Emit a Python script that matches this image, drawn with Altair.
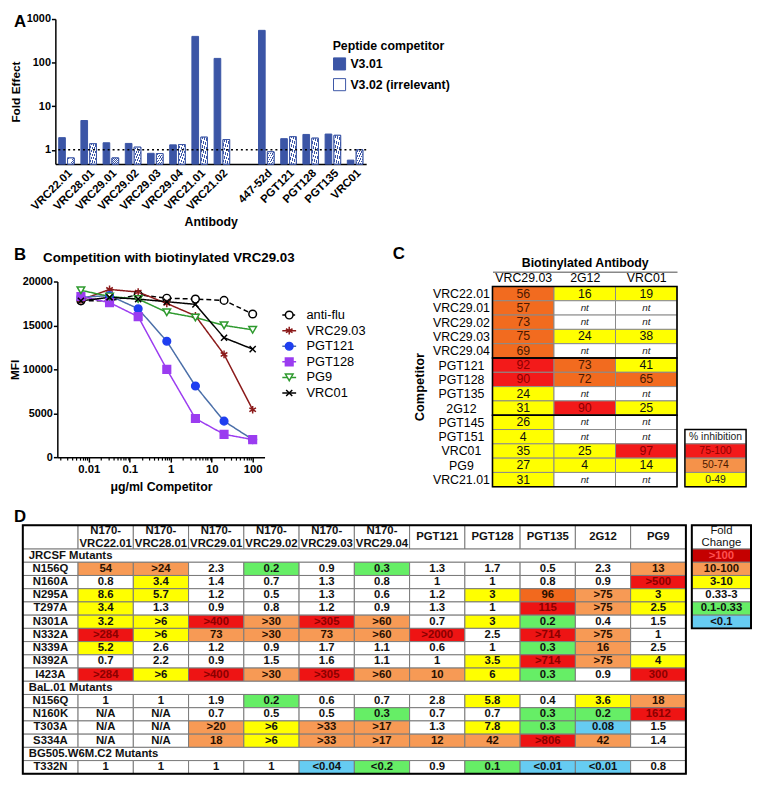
import json
import altair as alt
import pandas as pd

FONT = "Liberation Sans"
BLUE = "#3b55a6"

# ---------------- Panel A data ----------------
a_antibodies = ["VRC22.01", "VRC28.01", "VRC29.01", "VRC29.02", "VRC29.03", "VRC29.04",
                "VRC21.01", "VRC21.02", " ", "447-52d", "PGT121", "PGT128", "PGT135", "VRC01"]
a_v301 = [1.9, 4.7, 1.45, 1.4, 0.83, 1.3, 400, 125, None, 550, 1.8, 2.25, 2.3, 0.58]
a_v302 = [0.65, 1.38, 0.65, 1.15, 0.82, 1.32, 1.95, 1.72, None, 0.9, 2.0, 1.85, 2.15, 1.0]
a_series = ["V3.01", "V3.02 (irrelevant)"]
a_ticks = [1, 10, 100, 1000]

# ---------------- Panel B data ----------------
b_conc = [0.0064, 0.032, 0.16, 0.8, 4, 20, 100]
b_series = ["anti-flu", "VRC29.03", "PGT121", "PGT128", "PG9", "VRC01"]
b_antiflu = [17800, 17800, 18500, 18100, 18000, 17850, 16300]
b_vrc2903 = [17900, 19100, 18800, 17500, 16100, 11700, 5400]
b_pgt121 = [18200, 18400, 16900, 13200, 8100, 4100, 2000]
b_pgt128 = [18300, 17600, 16000, 10000, 4400, 2600, 2000]
b_pg9 = [19000, 18300, 18000, 16500, 15900, 15000, 14500]
b_vrc01 = [17800, 18200, 18000, 17700, 17400, 13600, 12300]
b_xticks = [0.01, 0.1, 1, 10, 100]
b_yticks = [0, 5000, 10000, 15000, 20000]

# ---------------- Panel C data ----------------
c_competitors = ["VRC22.01", "VRC29.01", "VRC29.02", "VRC29.03", "VRC29.04", "PGT121", "PGT128",
                 "PGT135", "2G12", "PGT145", "PGT151", "VRC01", "PG9", "VRC21.01"]
c_biotin = ["VRC29.03", "2G12", "VRC01"]
c_vrc2903 = [56, 57, 73, 75, 69, 92, 90, 24, 31, 26, 4, 35, 27, 31]
c_2g12 = [16, None, None, 24, None, 73, 72, None, 90, None, None, 25, 4, None]
c_vrc01 = [19, None, None, 38, None, 41, 65, None, 25, None, None, 97, 14, None]
c_groups = [("VRC22.01", "VRC29.04"), ("PGT121", "2G12"), ("PGT145", "VRC21.01")]
c_legend = ["% inhibition", "75-100", "50-74", "0-49"]

# ---------------- Panel D data ----------------
d_columns = ["N170-\nVRC22.01", "N170-\nVRC28.01", "N170-\nVRC29.01", "N170-\nVRC29.02",
             "N170-\nVRC29.03", "N170-\nVRC29.04", "PGT121", "PGT128", "PGT135", "2G12", "PG9"]
d_sections = ["JRCSF Mutants", "BaL.01 Mutants", "BG505.W6M.C2 Mutants"]
d_mutants = [
    ["N156Q", "N160A", "N295A", "T297A", "N301A", "N332A", "N339A", "N392A", "I423A"],
    ["N156Q", "N160K", "T303A", "S334A"],
    ["T332N"],
]
d_values = [
    [
        ["54", ">24", "2.3", "0.2", "0.9", "0.3", "1.3", "1.7", "0.5", "2.3", "13"],
        ["0.8", "3.4", "1.4", "0.7", "1.3", "0.8", "1", "1", "0.8", "0.9", ">500"],
        ["8.6", "5.7", "1.2", "0.5", "1.3", "0.6", "1.2", "3", "96", ">75", "3"],
        ["3.4", "1.3", "0.9", "0.8", "1.2", "0.9", "1.3", "1", "115", ">75", "2.5"],
        ["3.2", ">6", ">400", ">30", ">305", ">60", "0.7", "3", "0.2", "0.4", "1.5"],
        [">284", ">6", "73", ">30", "73", ">60", ">2000", "2.5", ">714", ">75", "1"],
        ["5.2", "2.6", "1.2", "0.9", "1.7", "1.1", "0.6", "1", "0.3", "16", "2.5"],
        ["0.7", "2.2", "0.9", "1.5", "1.6", "1.1", "1", "3.5", ">714", ">75", "4"],
        [">284", ">6", ">400", ">30", ">305", ">60", "10", "6", "0.3", "0.9", "300"],
    ],
    [
        ["1", "1", "1.9", "0.2", "0.6", "0.7", "2.8", "5.8", "0.4", "3.6", "18"],
        ["N/A", "N/A", "0.7", "0.5", "0.5", "0.3", "0.7", "0.7", "0.3", "0.2", "1612"],
        ["N/A", "N/A", ">20", ">6", ">33", ">17", "1.3", "7.8", "0.3", "0.08", "1.5"],
        ["N/A", "N/A", "18", ">6", ">33", ">17", "12", "42", ">806", "42", "1.4"],
    ],
    [
        ["1", "1", "1", "1", "<0.04", "<0.2", "0.9", "0.1", "<0.01", "<0.01", "0.8"],
    ],
]
# colour class of each cell: R >100, O 10-100, D darker orange, Y 3-10, W 0.33-3, G 0.1-0.33, B <0.1
d_classes = [
    ["O O W G W G W W W W O",
     "W Y W W W W W W W W R",
     "Y Y W W W W W Y D O Y",
     "Y W W W W W W W R O Y",
     "Y Y R O R O W Y G W W",
     "R Y O O O O R W R O W",
     "Y W W W W W W W G O W",
     "W W W W W W W Y R O Y",
     "R Y R O R O O Y G W R"],
    ["W W W G W W W Y W Y O",
     "W W W W W G W W G G R",
     "W W O Y O O W Y G B W",
     "W W O Y O O O O R O W"],
    ["W W W W B G W G B B W"],
]
d_legend = [">100", "10-100", "3-10", "0.33-3", "0.1-0.33", "<0.1"]
d_legend_classes = ["K", "O", "Y", "W", "G", "B"]

# ---------------- styles ----------------
ax_common = dict(labelFont=FONT, titleFont=FONT, labelFontWeight="bold", titleFontWeight="bold",
                 labelColor="black", titleColor="black", domainColor="black", tickColor="black",
                 domainWidth=1.5, tickWidth=1.5, grid=False)
RES = dict(color="independent", fill="independent", stroke="independent",
           shape="independent", strokeDash="independent")


def spacer(ch, w, h, dy):
    return alt.Chart(pd.DataFrame({"t": [ch]})).mark_text(
        align="left", baseline="top", font=FONT, fontSize=17, fontWeight="bold", color="black"
    ).encode(text="t:N", x=alt.value(0), y=alt.value(dy)).properties(width=w, height=h)


# ================= Panel A =================
a_rows = []
for ab, v1, v2 in zip(a_antibodies, a_v301, a_v302):
    if v1 is not None:
        a_rows.append({"antibody": ab, "series": a_series[0], "value": v1})
    if v2 is not None:
        a_rows.append({"antibody": ab, "series": a_series[1], "value": v2})
df_a = pd.DataFrame(a_rows)

A_W, A_H, A_YMIN = 315, 147, 0.47
a_x = alt.X("antibody:N",
            scale=alt.Scale(domain=a_antibodies, paddingInner=0.3, paddingOuter=0.15),
            axis=alt.Axis(title="Antibody", labelAngle=-45, ticks=False, labelFontSize=11.5,
                          titleFontSize=12.5, labelPadding=3, titlePadding=4, **ax_common))
a_y = alt.Y("value:Q", scale=alt.Scale(type="log", domain=[A_YMIN, 1000], clamp=True, nice=False),
            axis=alt.Axis(title="Fold Effect", values=a_ticks, format="d", tickSize=4,
                          labelPadding=1, labelFontSize=11, titleFontSize=12, titlePadding=4,
                          **ax_common))
a_xo = alt.XOffset("series:N", scale=alt.Scale(domain=a_series, paddingInner=0.25))

stops = []
n_str = 6
for k in range(n_str):
    o0, o1, o2 = k / n_str, (k + 0.68) / n_str, (k + 1) / n_str
    stops += [alt.GradientStop(color="white", offset=o0), alt.GradientStop(color="white", offset=o1),
              alt.GradientStop(color=BLUE, offset=o1), alt.GradientStop(color=BLUE, offset=o2)]
HATCH = alt.LinearGradient(gradient="linear", stops=stops, x1=0, y1=0, x2=1, y2=1)

a_bars = alt.Chart(df_a).mark_bar(stroke=BLUE, strokeWidth=1).encode(
    x=a_x, xOffset=a_xo, y=a_y, y2=alt.datum(A_YMIN),
    color=alt.Color("series:N", scale=alt.Scale(domain=a_series, range=[BLUE, "white"]),
                    legend=alt.Legend(title="Peptide competitor", orient="none", legendX=A_W + 8,
                                      legendY=21, titleFont=FONT, titleFontSize=12.5,
                                      titleFontWeight="bold", labelFont=FONT, labelFontSize=12.5,
                                      labelFontWeight="bold", labelColor="black", titleColor="black",
                                      symbolType="square", symbolSize=150, symbolStrokeColor=BLUE,
                                      symbolStrokeWidth=1, rowPadding=3, titlePadding=5)),
)
a_hatch = alt.Chart(df_a).transform_filter(alt.datum.series == a_series[1]).mark_bar(
    fill=HATCH, stroke=BLUE, strokeWidth=1
).encode(x=alt.X("antibody:N"), xOffset=alt.XOffset("series:N"), y=alt.Y("value:Q"),
         y2=alt.datum(A_YMIN))
a_ref = alt.Chart(pd.DataFrame({"ref": [1]})).mark_rule(
    color="black", strokeDash=[2, 3], strokeWidth=1.6).encode(y=alt.Y("ref:Q"))
chartA = alt.layer(a_bars, a_hatch, a_ref).properties(width=A_W, height=A_H)
rowA = alt.hconcat(spacer("A", 42, A_H, -5), chartA, spacing=0, bounds="flush")

# ================= Panel B =================
b_rows = []
for s, vals in zip(b_series, [b_antiflu, b_vrc2903, b_pgt121, b_pgt128, b_pg9, b_vrc01]):
    for c, v in zip(b_conc, vals):
        b_rows.append({"series": s, "conc": c, "mfi": v})
df_b = pd.DataFrame(b_rows)

B_W, B_H, B_GAP = 210, 178, 231
B_XDOM = [0.0017, 195]
ASTERISK = "M0,-1L0,1M-0.87,-0.5L0.87,0.5M-0.87,0.5L0.87,-0.5"
XMARK = "M-0.8,-0.8L0.8,0.8M-0.8,0.8L0.8,-0.8"
b_line_colors = ["black", "#8b1a1a", "#4a6ea8", "#9b3cf0", "#2e9a2e", "black"]
b_stroke_colors = ["black", "#8b1a1a", "#1f3ff0", "#9b3cf0", "#2e9a2e", "black"]
b_fill_colors = ["white", "transparent", "#1f3ff0", "#9b3cf0", "white", "transparent"]
b_shapes = ["circle", ASTERISK, "circle", "square", "triangle-down", XMARK]
b_dashes = [[5, 3], [1, 0], [1, 0], [1, 0], [1, 0], [1, 0]]


def b_enc_scales():
    return dict(
        stroke=alt.Stroke("series:N", scale=alt.Scale(domain=b_series, range=b_stroke_colors),
                          legend=None),
        fill=alt.Fill("series:N", scale=alt.Scale(domain=b_series, range=b_fill_colors),
                      legend=None),
        shape=alt.Shape("series:N", scale=alt.Scale(domain=b_series, range=b_shapes),
                        legend=None),
    )


b_x = alt.X("conc:Q", scale=alt.Scale(type="log", domain=B_XDOM, nice=False),
            axis=alt.Axis(title="μg/ml Competitor", values=b_xticks, format="~g", tickSize=5,
                          labelFontSize=11.5, titleFontSize=12.5, titlePadding=5, **ax_common))
b_y = alt.Y("mfi:Q", scale=alt.Scale(domain=[0, 20000], nice=False),
            axis=alt.Axis(title="MFI", values=b_yticks, format="d", tickSize=4, labelPadding=1,
                          labelFontSize=11, titleFontSize=12, titlePadding=1, **ax_common))

b_lines = alt.Chart(df_b).mark_line(strokeWidth=1.5).encode(
    x=b_x, y=b_y,
    color=alt.Color("series:N", scale=alt.Scale(domain=b_series, range=b_line_colors), legend=None),
    strokeDash=alt.StrokeDash("series:N", scale=alt.Scale(domain=b_series, range=b_dashes),
                              legend=None),
)
b_points = alt.Chart(df_b).mark_point(size=60, strokeWidth=1.5, opacity=1, fillOpacity=1).encode(
    x=alt.X("conc:Q", axis=None), y=alt.Y("mfi:Q"), **b_enc_scales())
b_minor = [k * 10 ** e for e in range(-3, 3) for k in range(2, 10)
           if B_XDOM[0] <= k * 10 ** e <= B_XDOM[1]]
b_minor_layer = alt.Chart(pd.DataFrame({"m": b_minor})).mark_point(opacity=0).encode(
    x=alt.X("m:Q", axis=alt.Axis(orient="bottom", values=b_minor, labels=False, domain=False,
                                 tickSize=3, tickWidth=1.2, tickColor="black", grid=False,
                                 title=None)))
chartB = alt.layer(b_lines, b_points, b_minor_layer).resolve_axis(x="independent").properties(
    width=B_W, height=B_H,
    title=alt.TitleParams("Competition with biotinylated VRC29.03", font=FONT, fontSize=13.5,
                          fontWeight="bold", anchor="middle", frame="group", dx=8, offset=11,
                          color="black"))

# legend of panel B: a line segment with the marker, then the name
df_bl = pd.DataFrame({"series": b_series})
df_bl["x0"], df_bl["x1"], df_bl["xm"], df_bl["xt"] = 0.0, 1.0, 0.5, 1.75
bl_xs = alt.Scale(domain=[0, 1], range=[18, 32], nice=False, zero=False)
bl_ys = alt.Scale(type="point", domain=b_series, range=[34, 113], padding=0)
bl_rule = alt.Chart(df_bl).mark_rule(strokeWidth=1.5).encode(
    x=alt.X("x0:Q", scale=bl_xs, axis=None), x2="x1:Q",
    y=alt.Y("series:N", scale=bl_ys, axis=None),
    color=alt.Color("series:N", scale=alt.Scale(domain=b_series, range=b_line_colors), legend=None),
    strokeDash=alt.StrokeDash("series:N", scale=alt.Scale(domain=b_series, range=[[3, 2]] +
                                                            b_dashes[1:]), legend=None))
bl_pts = alt.Chart(df_bl).mark_point(size=60, strokeWidth=1.5, opacity=1, fillOpacity=1).encode(
    x=alt.X("xm:Q", scale=bl_xs, axis=None), y=alt.Y("series:N", scale=bl_ys, axis=None),
    **b_enc_scales())
bl_txt = alt.Chart(df_bl).mark_text(align="left", baseline="middle", font=FONT, fontSize=13,
                                    color="black").encode(
    x=alt.X("xt:Q", scale=bl_xs, axis=None), y=alt.Y("series:N", scale=bl_ys, axis=None),
    text="series:N")
chartBL = alt.layer(bl_rule, bl_pts, bl_txt).properties(width=B_GAP, height=B_H)

# ================= Panel C =================
C_PW, C_RH, C_TOP = 187, 14.5, 5
C_H = C_TOP + C_RH * len(c_competitors)
c_fill_map = {"R": "#f31a1a", "O": "#f26b1f", "Y": "#ffff00", "N": "#ffffff"}
c_text_map = {"R": "#8b0000", "O": "#4a1800", "Y": "#111111", "N": "#222222"}
c_rows = []
for r, comp in enumerate(c_competitors):
    for c, vals in enumerate([c_vrc2903, c_2g12, c_vrc01]):
        v = vals[r]
        if v is None:
            cat, txt = "N", "nt"
        else:
            cat = "R" if v > 75 else ("O" if v >= 50 else "Y")
            txt = str(v)
        c_rows.append({"c0": c, "c1": c + 1, "r0": r, "r1": r + 1, "cx": c + 0.5, "ry": r + 0.5,
                       "txt": txt, "cat": cat, "fill": c_fill_map[cat], "tcol": c_text_map[cat]})
df_c = pd.DataFrame(c_rows)
c_grp = pd.DataFrame([{"c0": 0, "c1": 3, "r0": c_competitors.index(a),
                       "r1": c_competitors.index(b) + 1} for a, b in c_groups])

c_ys = alt.Scale(domain=[0, len(c_competitors)], range=[C_TOP, C_H], nice=False, zero=False)
c_xs = alt.Scale(domain=[0, 3], range=[0, C_PW], nice=False, zero=False)
c_cells = alt.Chart(df_c).mark_rect(stroke="#8a8a8a", strokeWidth=1).encode(
    x=alt.X("c0:Q", scale=c_xs,
            axis=alt.Axis(orient="top", values=[0.5, 1.5, 2.5],
                          labelExpr=json.dumps(c_biotin) + "[floor(datum.value)]",
                          ticks=False, domain=False, grid=False, labelFont=FONT, labelFontSize=12.5,
                          labelColor="black", labelPadding=-3, title=None)),
    x2="c1:Q",
    y=alt.Y("r0:Q", scale=c_ys,
            axis=alt.Axis(orient="left", values=[i + 0.5 for i in range(len(c_competitors))],
                          labelExpr=json.dumps(c_competitors) + "[floor(datum.value)]",
                          labelOverlap=False, ticks=False, domain=False, grid=False,
                          labelFont=FONT, labelFontSize=12.5, labelColor="black",
                          labelAlign="center", labelPadding=32,
                          title="Competitor", titleFont=FONT, titleFontSize=13,
                          titleFontWeight="bold", titleColor="black", titlePadding=6)),
    y2="r1:Q",
    fill=alt.Fill("fill:N", scale=None),
)
c_text = alt.Chart(df_c).transform_filter(alt.datum.cat != "N").mark_text(
    font=FONT, fontSize=12.5, baseline="middle").encode(
    x=alt.X("cx:Q", scale=c_xs, axis=None), y=alt.Y("ry:Q", scale=c_ys, axis=None), text="txt:N",
    color=alt.Color("tcol:N", scale=None))
c_nt = alt.Chart(df_c).transform_filter(alt.datum.cat == "N").mark_text(
    font=FONT, fontSize=10, fontStyle="italic", baseline="middle", color="#222222").encode(
    x=alt.X("cx:Q", scale=c_xs, axis=None), y=alt.Y("ry:Q", scale=c_ys, axis=None), text="txt:N")
c_border = alt.Chart(c_grp).mark_rect(fillOpacity=0, stroke="black", strokeWidth=1.6).encode(
    x=alt.X("c0:Q", scale=c_xs,
            axis=alt.Axis(orient="top", offset=10, labels=False, ticks=False, grid=False,
                          domainColor="#888888", domainWidth=1.5,
                          title="Biotinylated Antibody", titleFont=FONT, titleFontSize=12.5,
                          titleFontWeight="bold", titleColor="black", titlePadding=2)),
    x2="c1:Q", y=alt.Y("r0:Q", scale=c_ys, axis=None), y2="r1:Q")
c_letter = alt.Chart(pd.DataFrame({"t": ["C"]})).mark_text(
    align="left", baseline="top", font=FONT, fontSize=17, fontWeight="bold", color="black"
).encode(text="t:N", x=alt.value(-101), y=alt.value(-36))

# legend of panel C (same row grid, its own x range)
c_leg_fill = ["#ffffff", "#f31a1a", "#f5924a", "#ffff00"]
c_leg_text = ["#222222", "#8b0000", "#4a1800", "#222222"]
c_leg_row0 = 10
df_cl = pd.DataFrame([{"c0": 0, "c1": 1, "r0": c_leg_row0 + i, "r1": c_leg_row0 + 1 + i,
                       "cx": 0.5, "ry": c_leg_row0 + 0.5 + i, "txt": t, "fill": f, "tcol": tc}
                      for i, (t, f, tc) in enumerate(zip(c_legend, c_leg_fill, c_leg_text))])
cl_xs = alt.Scale(domain=[0, 1], range=[C_PW + 8, C_PW + 70], nice=False, zero=False)
cl_cells = alt.Chart(df_cl).mark_rect(stroke="#8a8a8a", strokeWidth=1).encode(
    x=alt.X("c0:Q", scale=cl_xs, axis=None), x2="c1:Q",
    y=alt.Y("r0:Q", scale=c_ys, axis=None), y2="r1:Q", fill=alt.Fill("fill:N", scale=None))
cl_text = alt.Chart(df_cl).mark_text(font=FONT, fontSize=10.5, baseline="middle").encode(
    x=alt.X("cx:Q", scale=cl_xs, axis=None), y=alt.Y("ry:Q", scale=c_ys, axis=None), text="txt:N",
    color=alt.Color("tcol:N", scale=None))
cl_border = alt.Chart(pd.DataFrame({"c0": [0], "c1": [1], "r0": [c_leg_row0],
                                    "r1": [c_leg_row0 + len(c_legend)]})).mark_rect(
    fillOpacity=0, stroke="black", strokeWidth=1.4).encode(
    x=alt.X("c0:Q", scale=cl_xs, axis=None), x2="c1:Q", y=alt.Y("r0:Q", scale=c_ys, axis=None),
    y2="r1:Q")

chartC = alt.layer(c_cells, c_text, c_nt, c_border, cl_cells, cl_text, cl_border, c_letter
                   ).resolve_scale(x="independent").resolve_axis(
    x="independent", y="independent").properties(width=C_PW + 70, height=C_H)

row2 = alt.hconcat(spacer("B", 44, B_H, -35), chartB, chartBL, chartC, spacing=0,
                   bounds="flush").resolve_scale(**RES)

# ================= Panel D =================
D_COLW, D_RH, D_HDR = 56, 13.4, 1.8
n_cols = len(d_columns) + 1
D_TW = D_COLW * n_cols
d_fill_map = {"H": "#ffffff", "W": "#ffffff", "R": "#ee1414", "K": "#c40000", "O": "#f79a55",
              "D": "#f2691e", "Y": "#ffff00", "G": "#66ee66", "B": "#66ccf2"}
d_text_map = {"H": "#111111", "W": "#111111", "R": "#8b0000", "K": "#ff5050", "O": "#2a1000",
              "D": "#2a1000", "Y": "#111111", "G": "#111111", "B": "#111111"}

rect_rows, text_rows, head_rows, sect_rows = [], [], [], []
for j in range(n_cols):
    rect_rows.append(dict(x0=j, x1=j + 1, y0=-D_HDR, y1=0, cat="H"))
    if j > 0:
        lab = d_columns[j - 1]
        (head_rows if "\n" in lab else text_rows).append(
            dict(x=j + 0.5, y=-D_HDR / 2, txt=lab, cat="H"))
r = 0
for sec, muts, vals, cls in zip(d_sections, d_mutants, d_values, d_classes):
    rect_rows.append(dict(x0=0, x1=n_cols, y0=r, y1=r + 1, cat="H"))
    sect_rows.append(dict(x=0, y=r + 0.5, txt=sec))
    r += 1
    for m, vrow, crow in zip(muts, vals, cls):
        rect_rows.append(dict(x0=0, x1=1, y0=r, y1=r + 1, cat="H"))
        text_rows.append(dict(x=0.5, y=r + 0.5, txt=m, cat="H"))
        for j, (v, c) in enumerate(zip(vrow, crow.split())):
            rect_rows.append(dict(x0=j + 1, x1=j + 2, y0=r, y1=r + 1, cat=c))
            text_rows.append(dict(x=j + 1.5, y=r + 0.5, txt=v, cat=c))
        r += 1
n_rows = r
D_H = D_RH * (n_rows + D_HDR)
df_dr = pd.DataFrame(rect_rows)
df_dr["fill"] = df_dr["cat"].map(d_fill_map)
df_dt = pd.DataFrame(text_rows)
df_dt["tcol"] = df_dt["cat"].map(d_text_map)
df_dh = pd.DataFrame(head_rows)
df_ds = pd.DataFrame(sect_rows)

d_xs = alt.Scale(domain=[0, n_cols], range=[0, D_TW], nice=False, zero=False)
d_ys = alt.Scale(domain=[-D_HDR, n_rows], range=[0, D_H], nice=False, zero=False)
d_cells = alt.Chart(df_dr).mark_rect(stroke="#7a7a7a", strokeWidth=1).encode(
    x=alt.X("x0:Q", scale=d_xs, axis=None), x2="x1:Q",
    y=alt.Y("y0:Q", scale=d_ys, axis=None), y2="y1:Q",
    fill=alt.Fill("fill:N", scale=None))
d_text = alt.Chart(df_dt).mark_text(font=FONT, fontSize=11.5, fontWeight="bold",
                                    baseline="middle").encode(
    x=alt.X("x:Q", scale=d_xs, axis=None), y=alt.Y("y:Q", scale=d_ys, axis=None), text="txt:N",
    color=alt.Color("tcol:N", scale=None))
d_head = alt.Chart(df_dh).mark_text(font=FONT, fontSize=11.5, fontWeight="bold", baseline="middle",
                                    lineBreak="\n", lineHeight=12.5, dy=-6,
                                    color="#111111").encode(
    x=alt.X("x:Q", scale=d_xs, axis=None), y=alt.Y("y:Q", scale=d_ys, axis=None), text="txt:N")
d_sect = alt.Chart(df_ds).mark_text(font=FONT, fontSize=11.5, fontWeight="bold", baseline="middle",
                                    align="left", dx=6, color="#111111").encode(
    x=alt.X("x:Q", scale=d_xs, axis=None), y=alt.Y("y:Q", scale=d_ys, axis=None), text="txt:N")
d_border = alt.Chart(pd.DataFrame({"x0": [0], "x1": [n_cols], "y0": [-D_HDR], "y1": [n_rows]})
                     ).mark_rect(fillOpacity=0, stroke="black", strokeWidth=2).encode(
    x=alt.X("x0:Q", scale=d_xs, axis=None), x2="x1:Q",
    y=alt.Y("y0:Q", scale=d_ys, axis=None), y2="y1:Q")

# legend of panel D (same row grid, its own x range)
dl_rows = []
for i, (t, c) in enumerate(zip(d_legend, d_legend_classes)):
    dl_rows.append(dict(x0=0, x1=1, y0=i, y1=i + 1, xc=0.5, yc=i + 0.5, txt=t,
                        fill=d_fill_map[c], tcol=d_text_map[c]))
dl_rows.insert(0, dict(x0=0, x1=1, y0=-D_HDR, y1=0, xc=0.5, yc=-D_HDR / 2, txt="Fold\nChange",
                       fill="#ffffff", tcol="#111111"))
df_dl = pd.DataFrame(dl_rows)
dl_xs = alt.Scale(domain=[0, 1], range=[D_TW + 6, D_TW + 66], nice=False, zero=False)
dl_cells = alt.Chart(df_dl).mark_rect(stroke="#7a7a7a", strokeWidth=1).encode(
    x=alt.X("x0:Q", scale=dl_xs, axis=None), x2="x1:Q",
    y=alt.Y("y0:Q", scale=d_ys, axis=None), y2="y1:Q", fill=alt.Fill("fill:N", scale=None))
dl_head = alt.Chart(df_dl.iloc[:1]).mark_text(
    font=FONT, fontSize=11.5, baseline="middle", lineBreak="\n", lineHeight=12, dy=-6,
    color="#111111").encode(
    x=alt.X("xc:Q", scale=dl_xs, axis=None), y=alt.Y("yc:Q", scale=d_ys, axis=None), text="txt:N")
dl_text = alt.Chart(df_dl.iloc[1:]).mark_text(
    font=FONT, fontSize=11.5, fontWeight="bold", baseline="middle").encode(
    x=alt.X("xc:Q", scale=dl_xs, axis=None), y=alt.Y("yc:Q", scale=d_ys, axis=None),
    text="txt:N", color=alt.Color("tcol:N", scale=None))
dl_border = alt.Chart(pd.DataFrame({"x0": [0], "x1": [1], "y0": [-D_HDR], "y1": [len(d_legend)]})
                      ).mark_rect(fillOpacity=0, stroke="black", strokeWidth=2).encode(
    x=alt.X("x0:Q", scale=dl_xs, axis=None), x2="x1:Q",
    y=alt.Y("y0:Q", scale=d_ys, axis=None), y2="y1:Q")

chartD = alt.layer(d_cells, d_text, d_head, d_sect, d_border, dl_cells, dl_head, dl_text,
                   dl_border).resolve_scale(x="independent").properties(width=D_TW + 66,
                                                                         height=D_H)
rowD = alt.hconcat(spacer("D", 9, D_H, -16), chartD, spacing=0, bounds="flush")

chart = alt.vconcat(rowA, row2, rowD, spacing=16).resolve_scale(**RES).properties(
    padding=0
).configure_view(stroke=None).configure_axis(
    labelFont=FONT, titleFont=FONT).configure_legend(labelFont=FONT, titleFont=FONT)

chart.save("out.html", embed_options={"renderer": "svg", "actions": False})
